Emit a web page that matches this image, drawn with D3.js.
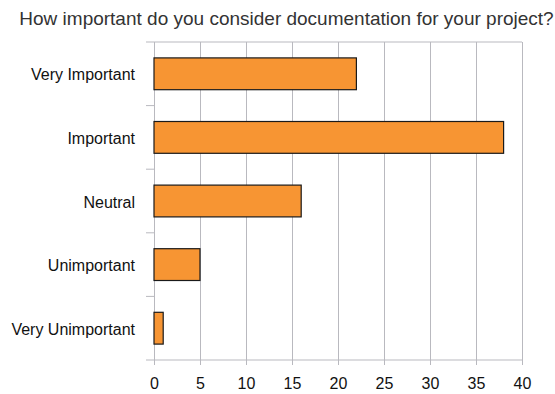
<!DOCTYPE html>
<html>
<head>
<meta charset="utf-8">
<script src="https://cdn.jsdelivr.net/npm/d3@7"></script>
<style>
  html, body { margin: 0; padding: 0; background: #fff; }
  svg { display: block; font-family: "Liberation Sans", Arial, sans-serif; }
</style>
</head>
<body>
<svg id="chart" width="555" height="394"></svg>
<script>
// Survey answers: how important is documentation
const categories = ["Very Important", "Important", "Neutral", "Unimportant", "Very Unimportant"];
const responses = [22, 38, 16, 5, 1];
const xTicks = [0, 5, 10, 15, 20, 25, 30, 35, 40];
const title = "How important do you consider documentation for your project?";

const svg = d3.select("#chart");
const margin = { left: 154, right: 33, top: 42, bottom: 34 };
const width = 555, height = 394;
const font = "'Liberation Sans', Arial, sans-serif";

const x = d3.scaleLinear().domain([0, 40]).range([margin.left, width - margin.right]);
const y = d3.scaleBand().domain(categories).range([margin.top, height - margin.bottom]).paddingInner(0.5).paddingOuter(0.25);
const band = d3.scaleBand().domain(categories).range([margin.top, height - margin.bottom]);

const gridColor = "#b9b9bf";
const plotH = height - margin.bottom - margin.top;

// Title
svg.append("text")
  .attr("x", 286.5).attr("y", 25)
  .attr("text-anchor", "middle")
  .attr("font-size", 19)
  .attr("fill", "#333")
  .text(title);

// Vertical gridlines + bottom ticks
svg.append("g")
  .attr("transform", `translate(0,${height - margin.bottom})`)
  .call(d3.axisBottom(x).tickValues(xTicks).tickSize(-plotH).tickSizeOuter(0).tickPadding(17.5))
  .call(g => g.select(".domain").remove())
  .call(g => g.selectAll(".tick line").attr("stroke", gridColor).attr("y2", 5).attr("y1", -plotH))
  .call(g => g.selectAll(".tick text").attr("font-size", 16).attr("fill", "#111").attr("font-family", font));

// Top border line
svg.append("line")
  .attr("x1", margin.left - 8).attr("x2", width - margin.right)
  .attr("y1", margin.top).attr("y2", margin.top)
  .attr("stroke", gridColor);
// Bottom axis line
svg.append("line")
  .attr("x1", margin.left - 8).attr("x2", width - margin.right)
  .attr("y1", height - margin.bottom).attr("y2", height - margin.bottom)
  .attr("stroke", gridColor);

// Category separator ticks on the left
const sepYs = categories.slice(1).map(c => band(c));
svg.append("g").selectAll("line").data(sepYs).join("line")
  .attr("x1", margin.left - 8).attr("x2", margin.left)
  .attr("y1", d => d).attr("y2", d => d)
  .attr("stroke", gridColor);

// Category labels
svg.append("g").selectAll("text").data(categories).join("text")
  .attr("x", 135)
  .attr("y", d => band(d) + band.bandwidth() / 2 + 1)
  .attr("dy", "0.35em")
  .attr("text-anchor", "end")
  .attr("font-size", 16)
  .attr("fill", "#111")
  .text(d => d);

// Bars
svg.append("g").selectAll("rect").data(categories).join("rect")
  .attr("x", x(0))
  .attr("y", d => y(d))
  .attr("width", (d, i) => x(responses[i]) - x(0))
  .attr("height", y.bandwidth())
  .attr("fill", "#f79533")
  .attr("stroke", "#1a1a1a")
  .attr("stroke-width", 1.2);
</script>
</body>
</html>
